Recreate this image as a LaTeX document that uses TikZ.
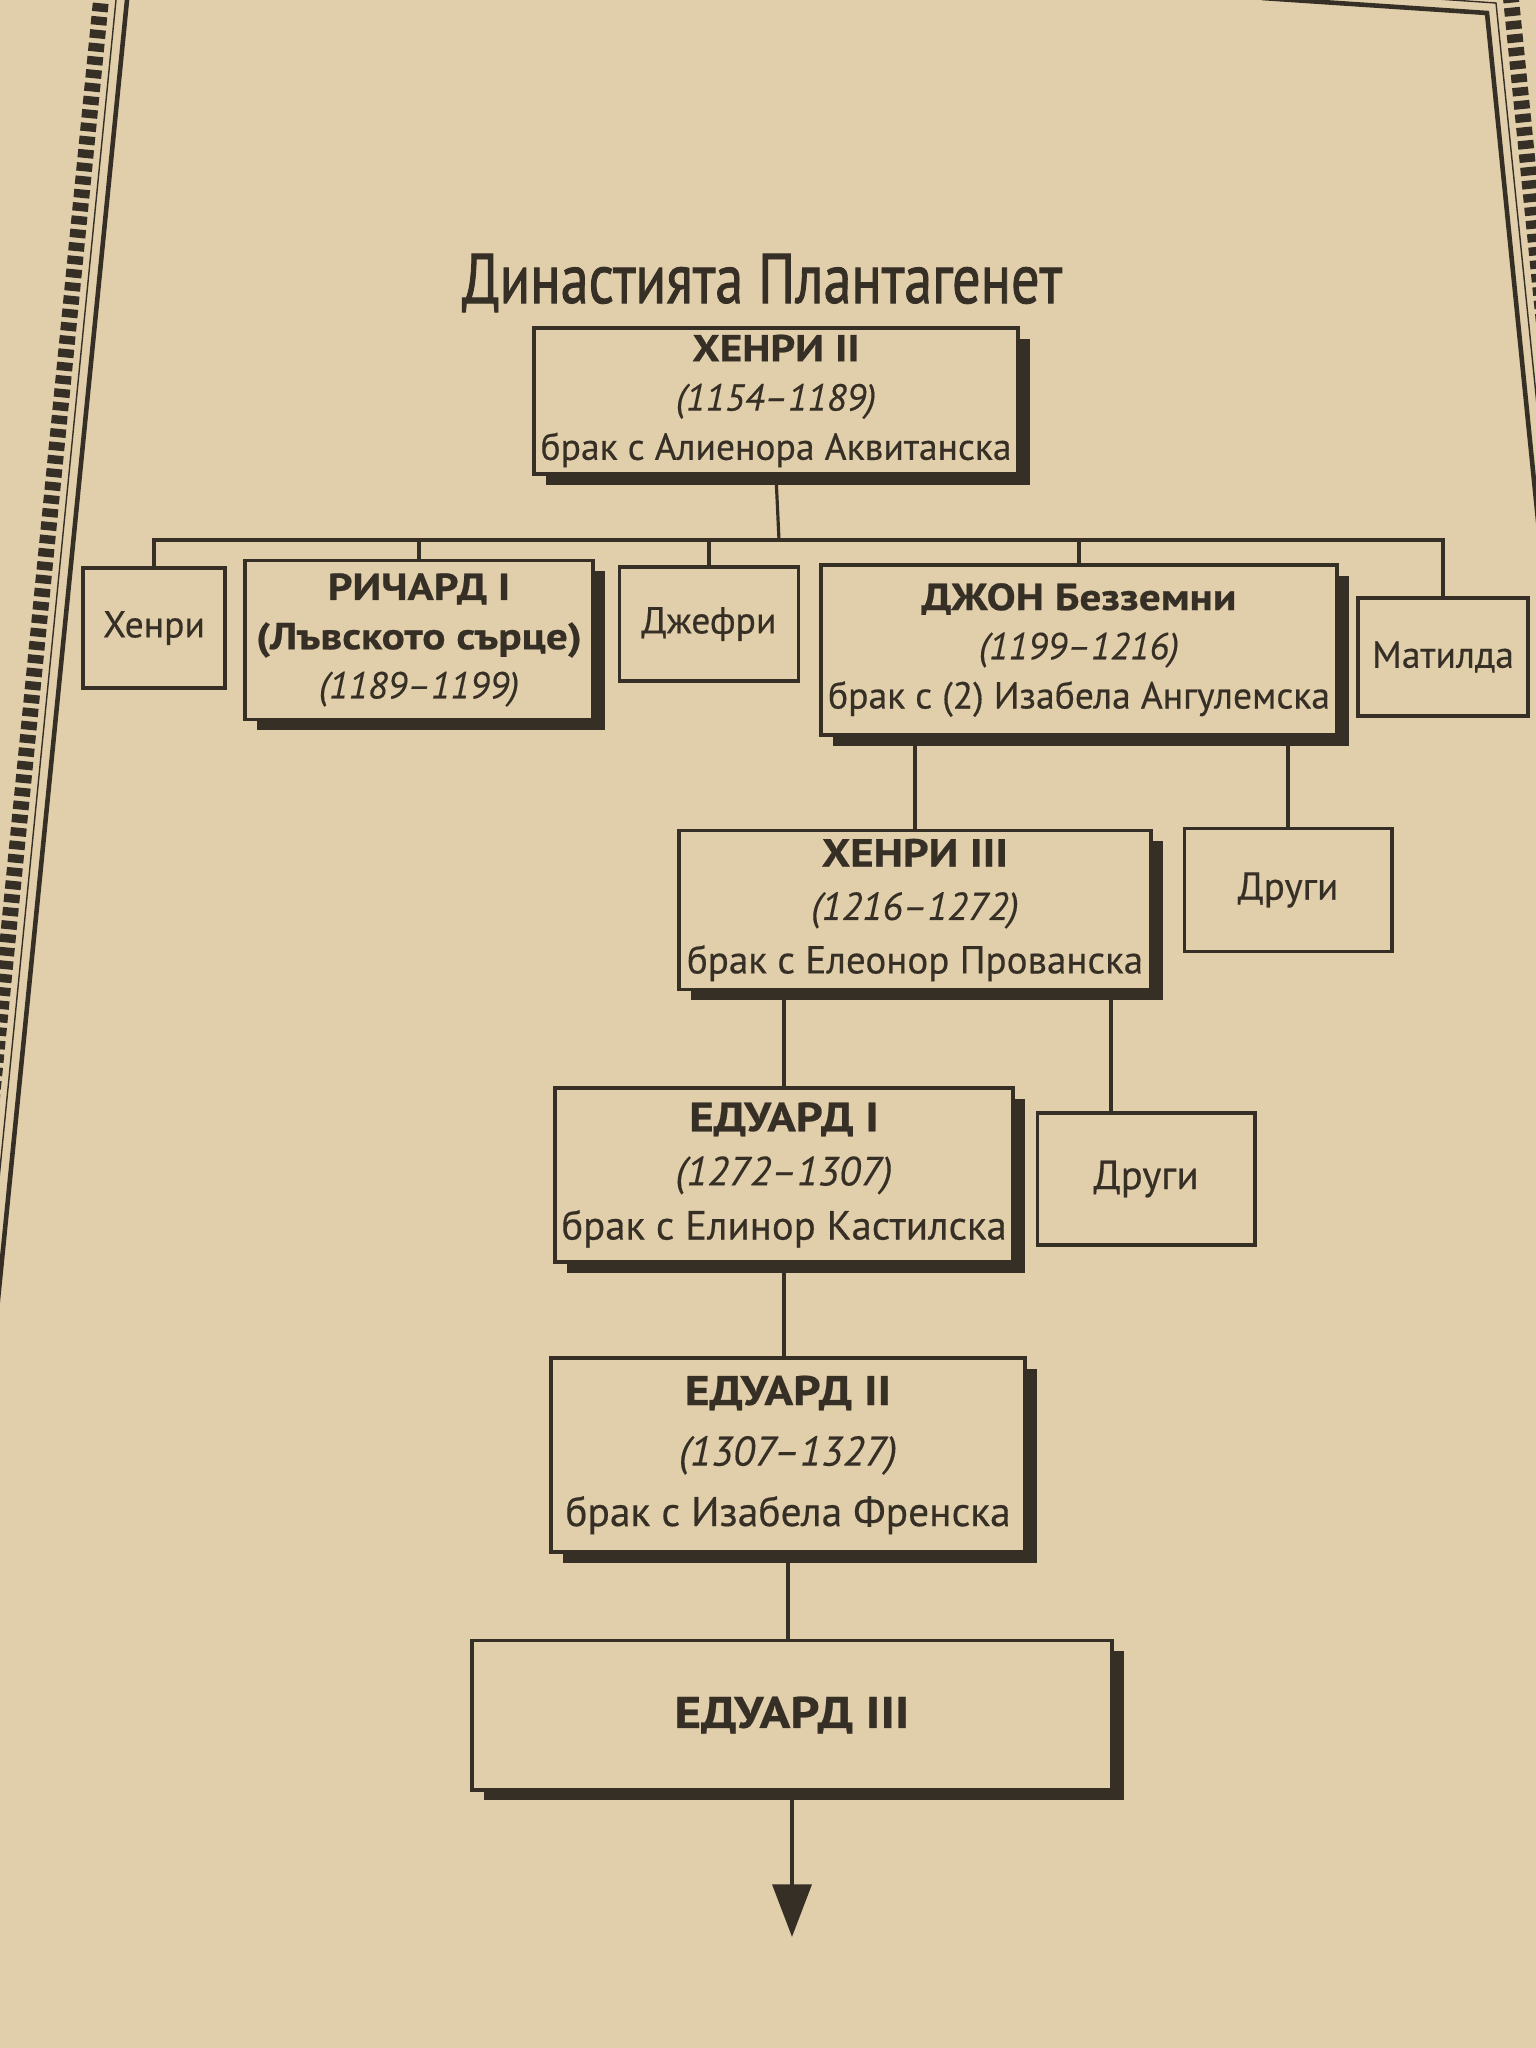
\documentclass[tikz,border=0pt]{standalone}
\usepackage{fontspec}
\setmainfont{PT Sans}[
  UprightFeatures={FakeBold=0.4},
  ItalicFeatures={FakeBold=0.3},
  BoldFeatures={FakeStretch=1.15, FakeBold=0.6}]
\newfontfamily\titlefont{PT Sans}[FakeStretch=0.8, FakeBold=1.2]
\usetikzlibrary{arrows.meta,shadows}
\definecolor{paper}{RGB}{225,206,170}
\definecolor{ink}{RGB}{54,47,38}

\begin{document}
\begin{tikzpicture}
    [
      x = 0.01cm, y = -0.01cm,
      person/.style = {draw=ink, line width=1.1pt, fill=paper, text=ink, align=center,
                       inner sep=0pt, font=\fontsize{10.7}{14}\selectfont},
      ruler/.style = {person, drop shadow={shadow xshift=3.4pt, shadow yshift=-3pt, fill=ink, opacity=1}},
      link/.style = {draw=ink, line width=0.9pt},
      rim/.style = {draw=ink, line width=1.3pt},
      beads/.style = {draw=ink, line width=4.5pt, dash pattern=on 2.4pt off 1.4pt},
    ]

    % page and its border
    \fill[paper] (0,0) rectangle (1536,2048);
    \useasboundingbox (0,0) rectangle (1536,2048);
    \draw[rim] (128,-10) -- (-5,1330);
    \draw[rim, line width=0.4pt] (117,-10) -- (-16,1330);
    \draw[beads] (102,-10) -- (-31,1330);
    \draw[rim] (1262,-2) -- (1487,13) -- (1550,640);
    \draw[rim, line width=0.4pt] (1262,-13) -- (1496,3) -- (1561,640);
    \draw[beads] (1262,-28) -- (1510,-11) -- (1576,640);

    \node[text=ink, font=\titlefont\fontsize{20}{20}\selectfont] (title) at (762,283) {Династията Плантагенет};

    \node[ruler, minimum width=4.84cm, minimum height=1.46cm] (henryII) at (776,401)
      {\textbf{ХЕНРИ II}\\ \textit{(1154–1189)}\\ брак с Алиенора Аквитанска};

    \node[person, minimum width=1.42cm, minimum height=1.20cm] (henry) at (154,628) {Хенри};
    \node[ruler, minimum width=3.48cm, minimum height=1.59cm] (richard) at (419,640)
      {\textbf{РИЧАРД I}\\ \textbf{(Лъвското сърце)}\\ \textit{(1189–1199)}};
    \node[person, minimum width=1.79cm, minimum height=1.14cm] (geoffrey) at (709,624) {Джефри};
    \node[ruler, minimum width=5.16cm, minimum height=1.70cm] (john) at (1079,650)
      {\textbf{ДЖОН Безземни}\\ \textit{(1199–1216)}\\ брак с (2) Изабела Ангулемска};
    \node[person, minimum width=1.70cm, minimum height=1.18cm] (matilda) at (1443,657) {Матилда};

    \node[ruler, minimum width=4.71cm, minimum height=1.59cm, font=\fontsize{11.1}{15.2}\selectfont] (henryIII) at (915,910)
      {\textbf{ХЕНРИ III}\\ \textit{(1216–1272)}\\ брак с Елеонор Прованска};
    \node[person, minimum width=2.07cm, minimum height=1.23cm, font=\fontsize{11.1}{15.2}\selectfont] (othersA) at (1288,890) {Други};

    \node[ruler, minimum width=4.57cm, minimum height=1.74cm, font=\fontsize{11.6}{15.4}\selectfont] (edwardI) at (784,1175)
      {\textbf{ЕДУАРД I}\\ \textit{(1272–1307)}\\ брак с Елинор Кастилска};
    \node[person, minimum width=2.17cm, minimum height=1.32cm, font=\fontsize{11.6}{15.4}\selectfont] (othersB) at (1146,1179) {Други};

    \node[ruler, minimum width=4.74cm, minimum height=1.94cm, font=\fontsize{11.8}{17.2}\selectfont] (edwardII) at (788,1455)
      {\textbf{ЕДУАРД II}\\ \textit{(1307–1327)}\\ брак с Изабела Френска};
    \node[ruler, minimum width=6.39cm, minimum height=1.49cm, font=\fontsize{12.6}{17}\selectfont] (edwardIII) at (792,1715)
      {\textbf{ЕДУАРД III}};

    % connectors
    \coordinate (bus) at (779,540);
    \coordinate (othersBtop) at ([xshift=-0.35cm]othersB.north);
    \coordinate (next) at (792,1937);
    \draw[link] (henryII.south) -- (bus);
    \foreach \kid in {henry,richard,geoffrey,john,matilda}
      \draw[link] (bus) -| (\kid.north);
    \draw[link] (john.south -| henryIII.north) -- (henryIII.north);
    \draw[link] (john.south -| othersA.north) -- (othersA.north);
    \draw[link] (henryIII.south -| edwardI.north) -- (edwardI.north);
    \draw[link] (henryIII.south -| othersBtop) -- (othersBtop);
    \draw[link] (edwardI.south) -- (edwardI.south |- edwardII.north);
    \draw[link] (edwardII.south) -- (edwardII.south |- edwardIII.north);
    \draw[link, line width=1.4pt, -{Triangle[width=11pt, length=15pt]}] (edwardIII.south) -- (next);
  \end{tikzpicture}
\end{document}
